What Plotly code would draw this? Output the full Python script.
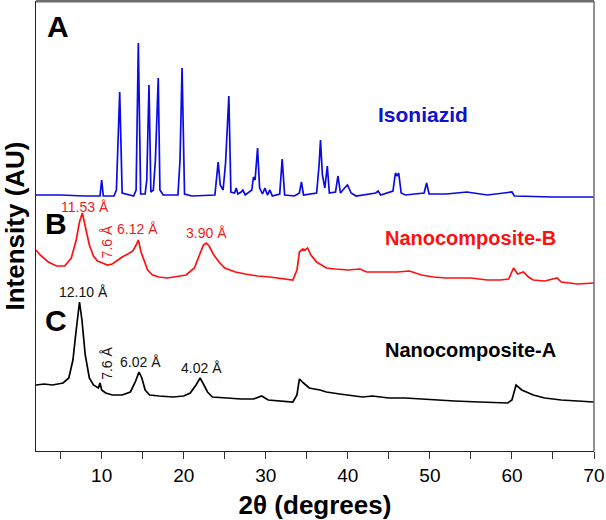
import plotly.graph_objects as go

# ---- data (2θ in degrees, stacked intensity in a.u.) ----
iso_2theta = [2.0, 5.0, 8.0, 9.8, 10.0, 10.2, 11.5, 11.8, 12.2, 12.5, 13.9, 14.2, 14.47, 14.75,
              15.3, 15.5, 15.77, 16.0, 16.3, 16.55, 16.9, 17.1, 17.5, 19.3, 19.55, 19.8, 20.1,
              21.0, 23.8, 24.0, 24.2, 24.45, 24.8, 25.1, 25.5, 25.75, 26.2, 26.4, 26.6, 27.0,
              27.2, 27.5, 28.3, 28.5, 28.7, 29.0, 29.25, 29.6, 29.9, 30.2, 30.5, 30.8, 31.7,
              32.0, 32.3, 33.5, 34.1, 34.35, 34.6, 36.2, 36.5, 36.67, 36.9, 37.2, 37.5, 37.75,
              38.5, 38.8, 39.1, 39.6, 39.96, 40.4, 41.0, 43.4, 43.7, 44.0, 45.5, 45.8, 46.0,
              46.2, 46.5, 47.0, 49.3, 49.6, 49.9, 52.0, 54.5, 57.0, 60.0, 60.3, 65.0, 70.0]
iso_int = [256, 256, 255, 255, 271, 255, 255, 261, 359, 258, 255, 261, 408, 257,
           257, 271, 366, 259, 261, 291, 373, 261, 256, 256, 291, 383, 257,
           255, 256, 276, 289, 266, 261, 288, 355, 259, 258, 263, 257, 259,
           261, 256, 261, 274, 271, 303, 263, 257, 263, 256, 261, 255, 257,
           292, 256, 255, 258, 269, 256, 258, 286, 311, 276, 263, 285, 258,
           259, 275, 258, 263, 266, 258, 255, 258, 260, 256, 260, 278, 275,
           278, 258, 256, 258, 268, 257, 257, 259, 256, 259, 255, 254, 254]

nb_2theta = [2.0, 2.5, 3.5, 4.5, 5.5, 6.3, 6.9, 7.3, 7.65, 8.0, 8.5, 9.0, 9.5, 10.1, 10.7,
             11.3, 12.0, 12.5, 13.2, 13.8, 14.2, 14.47, 14.8, 15.2, 15.6, 16.2, 17.0, 18.0,
             19.0, 20.3, 21.3, 21.9, 22.4, 22.75, 23.1, 23.6, 24.3, 25.0, 26.3, 27.5, 29.0,
             30.5, 32.0, 33.3, 33.8, 34.1, 34.5, 34.8, 35.1, 35.5, 36.2, 37.4, 38.5, 40.0,
             41.5, 42.3, 44.0, 46.0, 47.5, 49.0, 50.4, 52.0, 55.0, 57.0, 58.6, 59.6, 60.2,
             60.7, 61.4, 62.0, 62.6, 64.0, 65.5, 66.0, 68.0, 70.0]
nb_int = [201, 196, 189, 185, 185, 193, 211, 229, 238, 226, 206, 195, 190, 188, 186,
          187, 191, 194, 197, 200, 206, 211, 199, 189, 181, 176, 174, 173,
          174, 176, 183, 196, 206, 208, 205, 197, 189, 183, 179, 177, 175,
          174, 172, 171, 181, 199, 202, 201, 203, 196, 189, 183, 182, 181,
          182, 179, 179, 179, 180, 176, 174, 173, 173, 171, 171, 172, 183,
          177, 179, 174, 171, 170, 173, 169, 167, 168]

na_2theta = [2.0, 3.0, 4.0, 5.3, 6.0, 6.5, 6.9, 7.3, 7.6, 8.0, 8.5, 9.0, 9.6, 9.8, 10.0,
             10.5, 11.3, 12.5, 13.5, 14.1, 14.55, 14.9, 15.3, 15.85, 17.0, 18.7, 20.0, 20.8,
             21.5, 22.0, 22.4, 22.9, 23.5, 25.0, 27.0, 28.5, 29.5, 30.3, 31.5, 33.3, 33.8,
             34.1, 34.6, 35.3, 36.6, 37.4, 39.0, 41.8, 43.0, 45.0, 47.0, 50.4, 53.0, 56.0,
             59.5, 60.0, 60.5, 61.2, 62.6, 64.0, 66.0, 68.0, 70.0]
na_int = [66, 67, 66, 68, 73, 91, 121, 149, 131, 96, 73, 66, 63, 68, 61,
          58, 56, 56, 59, 69, 79, 73, 61, 56, 55, 54, 55, 58,
          66, 73, 67, 59, 54, 53, 52, 52, 55, 51, 50, 49, 56,
          72, 68, 63, 61, 59, 57, 54, 55, 53, 53, 51, 50, 49,
          48, 51, 66, 61, 56, 53, 51, 50, 49]

series_names = ["Isoniazid", "Nanocomposite-B", "Nanocomposite-A"]
series_colors = ["#0a0ae6", "#ff1010", "#000000"]

x_ticks = [10, 20, 30, 40, 50, 60, 70]
x_ticklabels = ["10", "20", "30", "40", "50", "60", "70"]

FONT = "Arial, 'Liberation Sans', sans-serif"

fig = go.Figure()
for xs, ys, name, col in zip([iso_2theta, nb_2theta, na_2theta],
                             [iso_int, nb_int, na_int],
                             series_names, series_colors):
    fig.add_trace(go.Scatter(x=xs, y=ys, mode="lines", name=name,
                             line=dict(color=col, width=1.7), showlegend=False))

ann = []
# panel letters
for txt, xx, yy in [("A", 4.7, 425), ("B", 4.4, 228), ("C", 4.4, 131)]:
    ann.append(dict(x=xx, y=yy, text="<b>%s</b>" % txt, showarrow=False,
                    font=dict(size=30, color="black", family=FONT)))
# series labels
for txt, xx, yy, col, sz in [("Isoniazid", 49.2, 337, "#1010d0", 21),
                             ("Nanocomposite-B", 55.0, 213, "#ff1010", 20),
                             ("Nanocomposite-A", 55.0, 101, "#000000", 20)]:
    ann.append(dict(x=xx, y=yy, text="<b>%s</b>" % txt, showarrow=False,
                    font=dict(size=sz, color=col, family=FONT)))
# d-spacing labels
for txt, xx, yy, col, ang in [("11.53 Å", 7.93, 244.5, "#ee1c1c", 0),
                              ("7.6 Å", 10.7, 209, "#ee1c1c", -90),
                              ("6.12 Å", 14.33, 222.5, "#ee1c1c", 0),
                              ("3.90 Å", 22.72, 218.3, "#ee1c1c", 0),
                              ("12.10 Å", 7.74, 159, "#111111", 0),
                              ("7.6 Å", 10.57, 87.5, "#111111", -90),
                              ("6.02 Å", 14.78, 89.3, "#111111", 0),
                              ("4.02 Å", 22.22, 83, "#111111", 0)]:
    ann.append(dict(x=xx, y=yy, text=txt, showarrow=False, textangle=ang,
                    font=dict(size=14, color=col, family=FONT)))

fig.update_layout(
    width=606, height=520,
    margin=dict(l=36, r=12, t=1, b=69, autoexpand=False),
    paper_bgcolor="white", plot_bgcolor="white",
    font=dict(family=FONT, color="black"),
    annotations=ann,
    xaxis=dict(range=[2, 70], tickvals=x_ticks, ticktext=x_ticklabels,
               automargin=False,
               ticks="outside", ticklen=7, tickwidth=1, tickcolor="#333",
               minor=dict(tickvals=[5, 15, 25, 35, 45, 55, 65], ticks="outside",
                          ticklen=7, tickcolor="#333"),
               showline=True, linecolor="#222", linewidth=1, showgrid=False,
               zeroline=False, tickfont=dict(size=19, family=FONT),
               title=dict(text="<b>2θ (degrees)</b>", font=dict(size=26, family=FONT))),
    yaxis=dict(range=[0, 450], showticklabels=False, ticks="", showline=True,
               automargin=False,
               linecolor="#222", linewidth=1, showgrid=False, zeroline=False,
               title=dict(text="<b>Intensity (AU)</b>", font=dict(size=26, family=FONT))),
    shapes=[
        dict(type="line", xref="paper", yref="paper", x0=0, x1=1, y0=1, y1=1,
             line=dict(color="#6e6e6e", width=3)),
        dict(type="line", xref="paper", yref="paper", x0=1, x1=1, y0=0, y1=1,
             line=dict(color="#6e6e6e", width=1.5)),
    ],
)

fig.write_html("out.html", config={"displayModeBar": False},
               post_script="document.body.style.margin='0';document.body.style.overflow='hidden';")
